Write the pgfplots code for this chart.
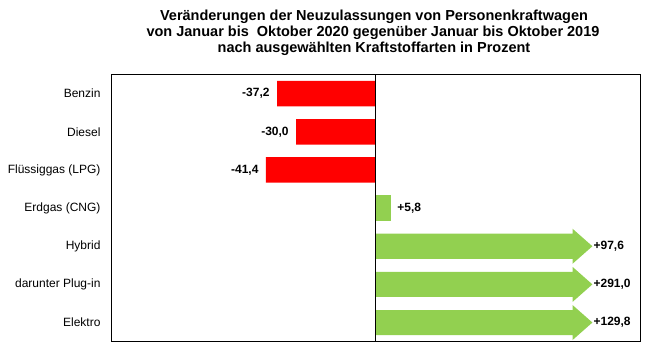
\documentclass[border=0pt]{standalone}
\usepackage{pgfplots}
\pgfplotsset{compat=1.18}
\usepackage{fontspec}
\setmainfont{Liberation Sans}
\definecolor{barred}{RGB}{255,0,0}
\definecolor{bargreen}{RGB}{146,208,80}
\begin{document}
\begin{tikzpicture}
\path[use as bounding box] (0,0) rectangle (654bp,359bp);
\begin{axis}[
  at={(111bp,17.4bp)}, anchor=south west,
  scale only axis, width=529bp, height=267bp,
  xmin=-100, xmax=100, ymin=-0.5, ymax=6.5,
  y dir=reverse,
  ytick={0,1,2,3,4,5,6},
  yticklabels={Benzin,Diesel,Flüssiggas (LPG),Erdgas (CNG),Hybrid,darunter Plug-in,Elektro},
  xtick=\empty,
  major tick length=0pt,
  yticklabel style={font=\fontsize{12bp}{14bp}\selectfont, anchor=east, xshift=-7bp},
  axis line style={line width=0.9bp},
  clip=false,
]
% negative bars
\addplot[xbar, bar width=25.5bp, fill=barred, draw=none,
  point meta=explicit symbolic,
  nodes near coords, nodes near coords style={anchor=east, font=\bfseries\fontsize{12bp}{14bp}\selectfont, xshift=-4bp}]
  coordinates {(-37.2,0) [-37,2] (-30.0,1) [-30,0] (-41.4,2) [-41,4]};
% Erdgas
\addplot[xbar, bar width=25.5bp, fill=bargreen, draw=none,
  point meta=explicit symbolic,
  nodes near coords, nodes near coords style={anchor=west, font=\bfseries\fontsize{12bp}{14bp}\selectfont, xshift=3bp}]
  coordinates {(5.8,3) [+5,8]};
% truncated bars as arrows (true values 97.6, 291.0, 129.8)
\addplot[fill=bargreen, draw=none] coordinates {(0,3.672) (74.5,3.672) (74.5,3.541) (82,4) (74.5,4.459) (74.5,4.328) (0,4.328)} -- cycle;
\addplot[fill=bargreen, draw=none] coordinates {(0,4.672) (74.5,4.672) (74.5,4.541) (82,5) (74.5,5.459) (74.5,5.328) (0,5.328)} -- cycle;
\addplot[fill=bargreen, draw=none] coordinates {(0,5.672) (74.5,5.672) (74.5,5.541) (82,6) (74.5,6.459) (74.5,6.328) (0,6.328)} -- cycle;
\addplot[only marks, mark=none, point meta=explicit symbolic,
  nodes near coords, nodes near coords style={anchor=west, font=\bfseries\fontsize{12bp}{14bp}\selectfont, inner sep=1bp}]
  coordinates {(82,4) [+97,6] (82,5) [+291,0] (82,6) [+129,8]};
% zero line
\addplot[black, line width=0.9bp] coordinates {(0,-0.5) (0,6.5)};
\end{axis}
\begin{scope}[every node/.style={font=\bfseries\fontsize{14.5bp}{16bp}\selectfont, inner sep=0pt}]
\node[anchor=base] at (374bp,338bp) {Veränderungen der Neuzulassungen von Personenkraftwagen};
\node[anchor=base] at (373bp,322bp) {von Januar bis\ \ Oktober 2020 gegenüber Januar bis Oktober 2019};
\node[anchor=base] at (374bp,306bp) {nach ausgewählten Kraftstoffarten in Prozent};
\end{scope}
\end{tikzpicture}
\end{document}
